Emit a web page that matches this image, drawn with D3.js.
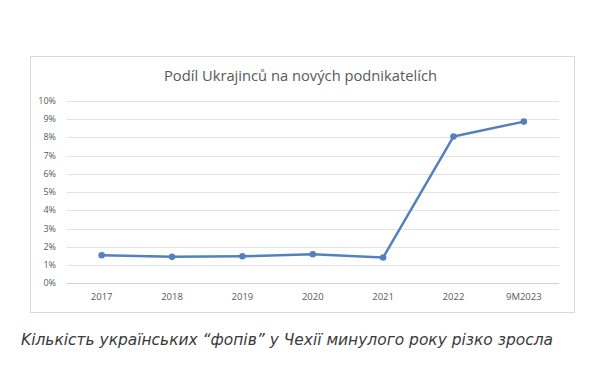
<!DOCTYPE html>
<html>
<head>
<meta charset="utf-8">
<script src="https://cdn.jsdelivr.net/npm/d3@7"></script>
<style>
body { margin: 0; background: white; }
svg { display: block; }
</style>
</head>
<body>
<svg id="chart" width="600" height="370"></svg>
<script>
// chart data
var years = ["2017", "2018", "2019", "2020", "2021", "2022", "9M2023"];
var share = [1.54, 1.45, 1.48, 1.59, 1.41, 8.04, 8.86];
var y_ticks = [0, 1, 2, 3, 4, 5, 6, 7, 8, 9, 10];
var title = "Podíl Ukrajinců na nových podnikatelích";
var caption = "Kількість українських \u201cфопів\u201d у Чехії минулого року різко зросла";

var line_color = "#5580c0";
var text_color = "#595959";

var svg = d3.select("#chart");

// chart frame
svg.append("rect")
    .attr("x", 30.5).attr("y", 56.5)
    .attr("width", 544).attr("height", 256)
    .attr("fill", "white")
    .attr("stroke", "#d9d9d9");

var x = d3.scaleBand().domain(years).range([66.5, 559]);
var y = d3.scaleLinear().domain([0, 10]).range([283.3, 100.8]);

// gridlines
svg.append("g").selectAll("line")
    .data(y_ticks)
    .enter().append("line")
    .attr("x1", 66.5).attr("x2", 559)
    .attr("y1", function(d) { return Math.round(y(d)) + 0.5; })
    .attr("y2", function(d) { return Math.round(y(d)) + 0.5; })
    .attr("stroke", function(d) { return d === 0 ? "#d0d0d0" : "#e3e3e3"; })
    .attr("stroke-width", 1);

// y labels
svg.append("g").selectAll("text")
    .data(y_ticks)
    .enter().append("text")
    .attr("x", 56)
    .attr("y", function(d) { return y(d); })
    .attr("dy", "0.35em")
    .attr("text-anchor", "end")
    .attr("font-family", "Open Sans, sans-serif")
    .attr("font-size", 9)
    .attr("fill", text_color)
    .text(function(d) { return d + "%"; });

// x labels
svg.append("g").selectAll("text")
    .data(years)
    .enter().append("text")
    .attr("x", function(d) { return x(d) + x.bandwidth() / 2; })
    .attr("y", 300)
    .attr("text-anchor", "middle")
    .attr("font-family", "Open Sans, sans-serif")
    .attr("font-size", 9.5)
    .attr("fill", text_color)
    .text(function(d) { return d; });

// title
svg.append("text")
    .attr("x", 164).attr("y", 80.5)
    .attr("font-family", "Open Sans, sans-serif")
    .attr("font-size", 14.7)
    .attr("fill", text_color)
    .attr("textLength", 273)
    .attr("lengthAdjust", "spacingAndGlyphs")
    .text(title);

// the line
var pts = years.map(function(d, i) { return {year: d, v: share[i]}; });
var line = d3.line()
    .x(function(d) { return x(d.year) + x.bandwidth() / 2; })
    .y(function(d) { return y(d.v); });

svg.append("path")
    .datum(pts)
    .attr("d", line)
    .attr("fill", "none")
    .attr("stroke", line_color)
    .attr("stroke-width", 2.5)
    .attr("stroke-linejoin", "round");

svg.append("g").selectAll("circle")
    .data(pts)
    .enter().append("circle")
    .attr("cx", function(d) { return x(d.year) + x.bandwidth() / 2; })
    .attr("cy", function(d) { return y(d.v); })
    .attr("r", 3.3)
    .attr("fill", line_color);

// caption under the chart
svg.append("text")
    .attr("x", 21).attr("y", 344.5)
    .attr("font-family", "DejaVu Sans, sans-serif")
    .attr("font-style", "italic")
    .attr("font-size", 16.5)
    .attr("fill", "#3a3a3a")
    .attr("textLength", 532)
    .attr("lengthAdjust", "spacingAndGlyphs")
    .text(caption);
</script>
</body>
</html>
